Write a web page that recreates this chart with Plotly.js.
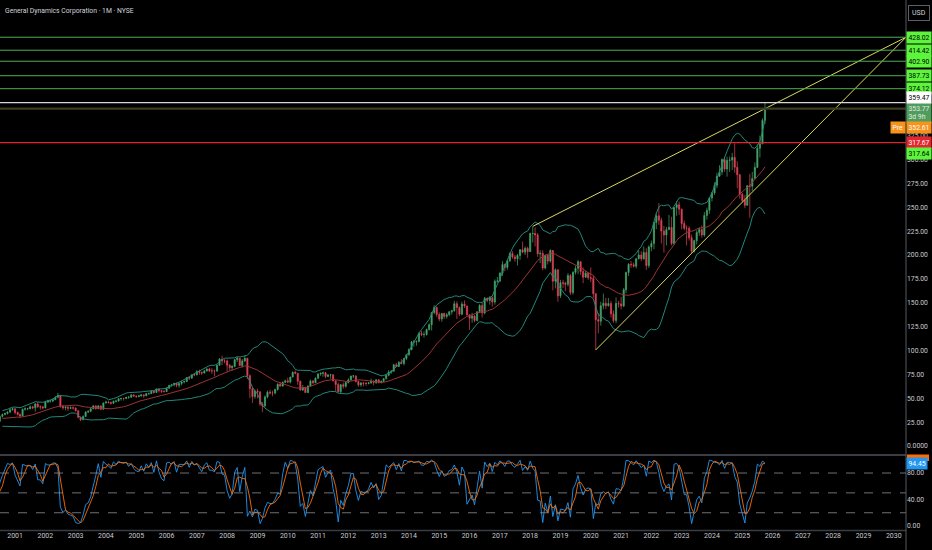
<!DOCTYPE html>
<html><head><meta charset="utf-8">
<script src="https://cdn.plot.ly/plotly-3.0.1.min.js"></script>
<style>html,body{margin:0;padding:0;background:#000;}#chart{width:932px;height:550px;}</style>
</head><body><div id="chart"></div>
<script>
const chartTitle = 'General Dynamics Corporation · 1M · NYSE';
const firstYear = 1999;
// monthly closes, Jan 1999 .. Oct 2025 (one row per year)
const closes = [
29,28,27.5,33,34,34.3,36,32,31.5,28,26,26.4,
24,20,22.4,27,28,26,31,33,34,35.5,38,39,
35,33,31.5,38.5,39,39,41,40,44,41,41,40,
46,47,47,48.5,51,53,41.5,40,40.7,39.5,40,39.7,
37,30,27.5,31,35.5,36.3,39,42,39,42,38.5,45,
46,45.5,44.7,46.8,47,49.6,49.8,49.7,51,51,53.5,52.3,
51.7,52.5,53.5,52.6,54.8,54.8,57.5,56,59.8,58,57,57,
60.5,63.5,64,65.6,63.5,65.5,67,67.5,71.7,71,74.5,74.4,
78,77,76.4,78.5,80.6,78.7,78.7,78.6,84.5,91,89,89,
84.5,82,83.4,90.4,92,84.2,89,92,73.6,60,51.8,57.6,
56.7,43.9,42,51.4,56.4,55.4,55.4,59.2,64.6,62.7,66.7,68.2,
66.9,72.2,77.2,76.3,67.8,58.6,61.2,55.9,62.8,68.1,66.2,71,
75.5,76.1,76.6,72.8,74.4,74.5,68.2,64.3,56.9,64.2,62.5,66.4,
69.2,73.3,73.4,67.5,64,66,65.6,65.5,66.1,68,66.4,69.3,
66.4,67.8,70.5,74,77.5,78.3,85,83.3,87.5,86.4,91.7,95.6,
101,109,109,109.5,118,116.6,116.8,122,127,139.7,145,137.6,
133,138.8,135.7,137.4,140.5,141.7,149,145,138,148.6,146.6,137.4,
133.7,136,131.4,140.5,147.2,139.2,154.8,152.4,155.2,150.7,172.5,172.7,
181,190,187,193.8,201.5,198,196,199.6,205.6,203,207,203.5,
222.5,222.5,221,201.3,201.7,186.4,199.8,193.6,204.7,172.6,184.5,157.2,
171,170.5,169.3,178.5,160.6,181.8,186,193,182.7,176.8,181,176.3,
175.5,159.5,132.3,130.6,146.8,149.5,146.8,149.3,138.4,131.3,149.3,148.8,
146.6,163.5,181.6,190.2,189.9,188.3,196,200,196,202.7,189,208.5,
212,234,241,236.5,225,221,226.6,229,212,249.8,252.6,248,
233,228,228,218,204,215,223.6,226.6,221,241.3,246.8,259.7,
265,273,282.5,287,300,290,299,299.5,302.2,291.8,284,263.5,
257,252,272.6,272,280,291.7,311.8,316.4,341,353.77
];
const highs = [
30.5,30,29,34,35.5,35.5,37.5,36.5,33.5,32,29,27.5,
27,24.5,23,28,29.5,28.5,32,34,35,36.5,39.5,40,
39.5,36,34,39,40.5,40,42.5,42,45,46,42.5,42,
47,48.5,48.5,49.5,52,55.5,53.5,43,42,41.5,41.5,41.5,
40.5,37.5,31,32,36.5,37.5,40,43,43,43,42.5,45.5,
47.5,47,46.5,47.5,48.5,50,50.5,50.5,51.5,52.5,54.5,54,
53,53.5,54.5,54,55.5,56,58,58,60,60,58.5,58.5,
61,64,65,66,66.5,66,68,68.5,72,73,75,76,
79.5,80,78,79.5,81.5,82,81.5,80,85,92,94.5,91,
90.5,86,84.5,91,93.5,92,91,94.5,92,75,62,59,
60,57,46,53,58,59,58,60,65.5,67,67.5,69.5,
71.5,72.5,78,79,76.5,68.5,64,62,63.5,69.5,69,72,
76,77,78,77.5,75.5,75.5,75,68.5,66.5,65,66.5,67,
71,73.5,74.5,74,68.5,67,67,67,67,70.5,68.5,70,
70,68.5,71,75,79.5,79.5,86,87,89,91,92,96,
102.5,110,111,110.5,119,120.5,120,123,128.5,140,147.5,146,
140,139,139.5,139.5,141.5,142.5,152,151.5,146,151,152.5,147,
138,139.5,137,141,148.5,150,156,155.5,157,156.5,174.5,177,
182,193.5,191,195,203,204,200,201,206,214,209,208.5,
223.5,229.9,229,223,205,205,200,201,206,205,186,185,
174,174,172,181,180,183,189,195,193.5,187,183.5,182,
187,178,160,139,151,159.5,155,155,152,142,155.5,152,
156,165.5,182.5,191.5,193.5,192,197,205,204,209,207,210,
215,234.5,244,254.5,239,230.5,229.5,242,240,250,256.5,256,
248.5,236,231,230,221.5,216,226,229,231,245,249.5,260,
266,276,286,294,301,303,303,303,307,316.9,298,285,
265,263,273,285,287,297,316,325,343,360
];
const lows = [
28,27.5,26.5,27,32,32.5,33.5,31,30,27.5,25.5,25,
23,19,18.5,22,26,25,25.5,30,32,33,34.5,37,
33,32,29.5,31,37,37.5,38.5,38.5,36,40,38,38.5,
39.5,45,45.5,46,48,50,40,38,37.5,37,38.5,38,
36,29,26,27,30.5,34.5,35.5,38.5,38,38.5,37.5,38,
44.5,44.5,43.5,44,45.5,46.5,47.5,47.5,49,49.5,50.5,51.5,
50.5,51,51.5,50.5,52,53.5,54.5,55,55.5,56,55.5,56,
56.5,60,62,62.5,61.5,61,63.5,65.5,67,69,70.5,73,
74,74.5,74.5,76,78,77.5,75.5,73,77.5,84,84.5,86.5,
78,79,79,82.5,88,84,82,88,70,50,45,49.5,
50,42,35.3,40.5,50,54,52,54,58,62,62,66,
66,65.5,72,75,64,58,57.5,55.5,55.5,62.5,65,66,
70.5,73.5,72.5,71,72,70.5,67.5,57,56,55.5,60,61,
65.5,68.5,71,66.5,62,62,62.5,63,64.5,65,63.5,65,
65.5,65.5,67,69.5,73,75.5,78,83,83,85.5,84.5,90,
94.5,100,104,105,108.5,115,113.5,115.5,121,121,138,135,
130.5,130,133,133.5,136,137.5,140.5,133,136,137,144.5,136.5,
121.5,129,129.5,130.5,139,134.5,138,150.5,148,146,148,171,
171.5,178,183,184.5,193,196,193,189,195,202,200,197,
203,213,209,198,191.5,184,185,190,192,163,165,151,
155,165.5,162,167,158,158.5,179.5,180,179,170.5,176,174,
171.5,155,100.6,118,126,143,143.5,146,134.5,129,128.5,145,
143,145.5,160,178,186.5,187,186,195.5,193.5,195,184.5,186.5,
204,206,227,231.5,212,202.4,210,226,210,211,241,242,
227,226,210,215,202,202.4,211,220,218,219,237,243,
256,263,270,282,284,287,282,287,289,286,270,259,
255,249,252,239,267,280,291,302,316,337
];
// drawn levels & labels
const greenLevels = [428.02, 414.42, 402.90, 387.73, 374.12];
const greenLabels = ['428.02', '414.42', '402.90', '387.73', '374.12'];
const whiteLevel = 359.47, whiteLabel = '359.47';
const lastPrice = 353.77, lastLabel = '353.77<br>3d 9h';
const prePrice = 352.61, preLabel = '352.61';
const redLevel = 317.67, redLabel = '317.67';
const green2Level = 317.64, green2Label = '317.64';
const trendUpperX = ['2018-02-01', '2030-05-28'], trendUpperY = [230, 428.02];
const trendLowerX = ['2020-03-01', '2030-05-28'], trendLowerY = [100.6, 428.02];
const priceTickVals = [0,25,50,75,100,125,150,175,200,225,250,275,300,325];
const priceTickText = ['0.0000','25.00','50.00','75.00','100.00','125.00','150.00','175.00','200.00','225.00','250.00','275.00','300.00','325.00'];
const stochTickVals = [0,40,80];
const stochTickText = ['0.00','40.00','80.00'];
const stochLevels = [20,50,80];
const stochReadout = 94.45, stochReadoutText = '94.45';

// ---- derived ----
const dates = closes.map((_, i) => {
  const y = firstYear + Math.floor(i / 12), m = (i % 12) + 1;
  return y + '-' + String(m).padStart(2, '0') + '-01';
});
const opens = closes.map((c, i) => i === 0 ? c : closes[i - 1]);
const bbMid = [], bbUp = [], bbLo = [];
for (let i = 0; i < closes.length; i++) {
  if (i < 19) { bbMid.push(null); bbUp.push(null); bbLo.push(null); continue; }
  const w = closes.slice(i - 19, i + 1);
  const m = w.reduce((a, b) => a + b, 0) / 20;
  const sd = Math.sqrt(w.reduce((a, b) => a + (b - m) * (b - m), 0) / 20);
  bbMid.push(m); bbUp.push(m + 2 * sd); bbLo.push(m - 2 * sd);
}
const stochK = [], stochD = [];
for (let i = 0; i < closes.length; i++) {
  if (i < 13) { stochK.push(null); stochD.push(null); continue; }
  const hh = Math.max(...highs.slice(i - 13, i + 1));
  const ll = Math.min(...lows.slice(i - 13, i + 1));
  const k = 100 * (closes[i] - ll) / (hh - ll);
  stochK.push(k);
  if (i < 15) stochD.push(null);
  else stochD.push((k + stochK[i - 1] + stochK[i - 2]) / 3);
}

const GREEN = '#45a86a', RED = '#e04558';
const traces = [
  {type:'scatter', x:dates, y:bbUp, mode:'lines', line:{color:'#22877b', width:1}, hoverinfo:'skip'},
  {type:'scatter', x:dates, y:bbLo, mode:'lines', line:{color:'#22877b', width:1}, hoverinfo:'skip'},
  {type:'scatter', x:dates, y:bbMid, mode:'lines', line:{color:'#9c3434', width:1}, hoverinfo:'skip'},
  {type:'candlestick', x:dates, open:opens, high:highs, low:lows, close:closes,
   increasing:{line:{color:GREEN, width:0.7}, fillcolor:GREEN},
   decreasing:{line:{color:RED, width:0.7}, fillcolor:RED},
   whiskerwidth:0, hoverinfo:'skip', xaxis:'x', yaxis:'y'},
  {type:'scatter', x:trendUpperX, y:trendUpperY, mode:'lines', line:{color:'#d9d95f', width:1}, hoverinfo:'skip'},
  {type:'scatter', x:trendLowerX, y:trendLowerY, mode:'lines', line:{color:'#d9d95f', width:1}, hoverinfo:'skip'},
  {type:'scatter', x:dates, y:stochK, mode:'lines', line:{color:'#2196f3', width:0.9}, xaxis:'x', yaxis:'y2', hoverinfo:'skip'},
  {type:'scatter', x:dates, y:stochD, mode:'lines', line:{color:'#ff6d00', width:0.9}, xaxis:'x', yaxis:'y2', hoverinfo:'skip'}
];

const PH = 531; // plot height in px
const PW = 906; // plot width in px
const shapes = [];
greenLevels.forEach(v => shapes.push({type:'line', xref:'paper', x0:0, x1:1, yref:'y', y0:v, y1:v, line:{color:'#4caf50', width:1}}));
shapes.push({type:'line', xref:'paper', x0:0, x1:1, yref:'y', y0:whiteLevel, y1:whiteLevel, line:{color:'#d6d6d6', width:1.3}});
shapes.push({type:'line', xref:'paper', x0:0, x1:1, yref:'y', y0:(lastPrice + prePrice) / 2, y1:(lastPrice + prePrice) / 2, line:{color:'#3c3c20', width:2.2}});
shapes.push({type:'line', xref:'paper', x0:0, x1:1, yref:'y', y0:redLevel, y1:redLevel, line:{color:'#e0262e', width:1.2}});
stochLevels.forEach(v => shapes.push({type:'line', xref:'paper', x0:0, x1:1, yref:'y2', y0:v, y1:v, line:{color:'#8a8d96', width:0.8, dash:'dash'}}));
shapes.push({type:'line', xref:'paper', x0:0, x1:1, yref:'paper', y0:(PH-455)/PH, y1:(PH-455)/PH, line:{color:'#3a3d45', width:2}});
shapes.push({type:'line', xref:'paper', x0:0, x1:1, yref:'paper', y0:(PH-530.5)/PH, y1:(PH-530.5)/PH, line:{color:'#3a3d45', width:1.5}});
shapes.push({type:'line', xref:'paper', x0:1, x1:1, yref:'paper', y0:-0.05, y1:1.01, line:{color:'#55585f', width:1}});
// orange %D readout box peeking out above the blue %K readout
shapes.push({type:'rect', xref:'paper', x0:1 + 1 / PW, x1:1 + 23 / PW, yref:'paper', y0:(PH-461)/PH, y1:(PH-454.5)/PH,
  line:{width:0}, fillcolor:'#ff6d00', layer:'above'});

function lab(v, text, bg, fg, yshift, yref) {
  return {xref:'paper', x:1, xanchor:'left', xshift:0, yref:yref || 'y', y:v, yanchor:'middle', yshift:yshift || 0,
    text:text, showarrow:false, bgcolor:bg, borderpad:1.5, font:{size:6.8, color:fg, family:'Roboto, sans-serif'}, align:'left'};
}
const annotations = [];
greenLevels.forEach((v, i) => annotations.push(lab(v, greenLabels[i], '#5cf53c', '#000')));
annotations.push(lab(lastPrice, lastLabel, '#4f9d5c', '#e8e8e8', -4.5));
annotations.push(lab(whiteLevel, whiteLabel, '#ffffff', '#000', 5.5));
annotations.push(lab(prePrice, preLabel, '#f7931a', '#fff', -18));
annotations.push({xref:'paper', x:1, xanchor:'right', yref:'y', y:prePrice, yshift:-18, text:'Pre', showarrow:false,
  bgcolor:'#f7931a', borderpad:1.5, font:{size:6.8, color:'#fff', family:'Roboto, sans-serif'}});
annotations.push(lab(redLevel, redLabel, '#e3262f', '#fff'));
annotations.push(lab(green2Level, green2Label, '#5cf53c', '#000', -11));
annotations.push(lab(stochReadout, stochReadoutText, '#2196f3', '#fff', 0, 'y2'));
annotations.push({xref:'paper', x:1, xanchor:'left', xshift:2, yref:'paper', y:(PH-13)/PH, yanchor:'middle', text:'USD', showarrow:false,
  bordercolor:'#5d606b', borderwidth:1, borderpad:3, font:{size:7, color:'#d1d4dc', family:'Roboto, sans-serif'}});
annotations.push({xref:'paper', x:0, xanchor:'left', xshift:3, yref:'paper', y:(PH-11)/PH, yanchor:'middle', text:chartTitle, showarrow:false,
  font:{size:6.8, color:'#d1d4dc', family:'Roboto, sans-serif'}});

const layout = {
  width:932, height:550,
  paper_bgcolor:'#000', plot_bgcolor:'#000',
  margin:{l:0, r:26, t:0, b:19},
  showlegend:false,
  font:{family:'Roboto, sans-serif', size:7, color:'#b2b5be'},
  xaxis:{type:'date', range:['2000-07-03', '2030-05-28'], anchor:'y2', showgrid:false, zeroline:false,
    dtick:'M12', tick0:'2001-01-01', tickformat:'%Y', ticks:'', showline:false,
    tickfont:{size:7, color:'#c8cad0'}, rangeslider:{visible:false}},
  yaxis:{domain:[(PH-453)/PH, 1], range:[-7.33, 467], side:'right', anchor:'x', showgrid:false, zeroline:false,
    tickmode:'array', tickvals:priceTickVals, ticktext:priceTickText, ticks:'', showline:false,
    tickfont:{size:6.8, color:'#c8cad0'}},
  yaxis2:{domain:[(PH-530)/PH, (PH-456)/PH], range:[-6.04, 105.7], side:'right', anchor:'x', showgrid:false, zeroline:false,
    tickmode:'array', tickvals:stochTickVals, ticktext:stochTickText, ticks:'', showline:false,
    tickfont:{size:6.8, color:'#c8cad0'}},
  shapes:shapes, annotations:annotations
};
Plotly.newPlot('chart', traces, layout, {staticPlot:true, displayModeBar:false});
</script></body></html>
